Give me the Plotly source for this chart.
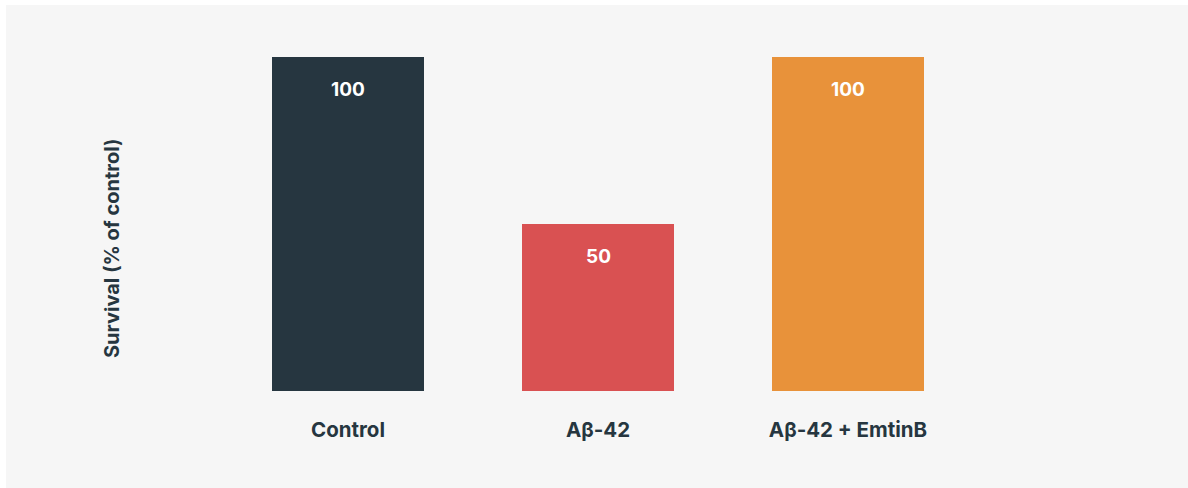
import plotly.graph_objects as go

# Survival data per treatment group
categories = ["Control", "Aβ-42", "Aβ-42 + EmtinB"]
survival = [100, 50, 100]
bar_colors = ["#263640", "#d95152", "#e8923a"]

W, H = 1188, 488
L, R, T, B = 223, 215, 57, 97
plot_w = W - L - R
plot_h = H - T - B

def px_x(px):
    return (px - L) / plot_w

def px_y(py):
    return (H - B - py) / plot_h

FONT = "Inter"
TEXT = "#263640"

fig = go.Figure(
    go.Bar(
        x=categories,
        y=survival,
        marker=dict(color=bar_colors, line=dict(width=0)),
        hoverinfo="skip",
    )
)

# Value labels just below the top of each bar
for cat, val in zip(categories, survival):
    fig.add_annotation(
        x=cat, y=val, text=f"<b>{val}</b>", showarrow=False,
        yanchor="middle", yshift=-32,
        font=dict(family=FONT, size=19, color="white"),
    )

# Y axis title
fig.add_annotation(
    xref="paper", yref="paper", x=px_x(112), y=px_y(248),
    text="<b>Survival (% of control)</b>", textangle=-90, showarrow=False,
    xanchor="center", yanchor="middle",
    font=dict(family=FONT, size=20, color=TEXT),
)

# Light panel behind the chart
fig.add_shape(
    type="rect", xref="paper", yref="paper", layer="below",
    x0=px_x(6), x1=px_x(W + 2), y0=px_y(H + 2), y1=px_y(5),
    fillcolor="#f6f6f6", line=dict(width=0),
)

fig.update_layout(
    width=W, height=H,
    margin=dict(l=L, r=R, t=T, b=B, pad=0),
    paper_bgcolor="white",
    plot_bgcolor="rgba(0,0,0,0)",
    bargap=0.392,
    showlegend=False,
    font=dict(family=FONT, color=TEXT),
    xaxis=dict(
        range=[-0.5, 2.5], showgrid=False, zeroline=False, showline=False,
        ticks="", ticklabelstandoff=24,
        tickfont=dict(family=FONT, size=20.5, color=TEXT, weight="bold"),
    ),
    yaxis=dict(
        range=[0, 100], showgrid=False, zeroline=False, showline=False,
        showticklabels=False, ticks="",
    ),
)

fig.write_html("out.html")
